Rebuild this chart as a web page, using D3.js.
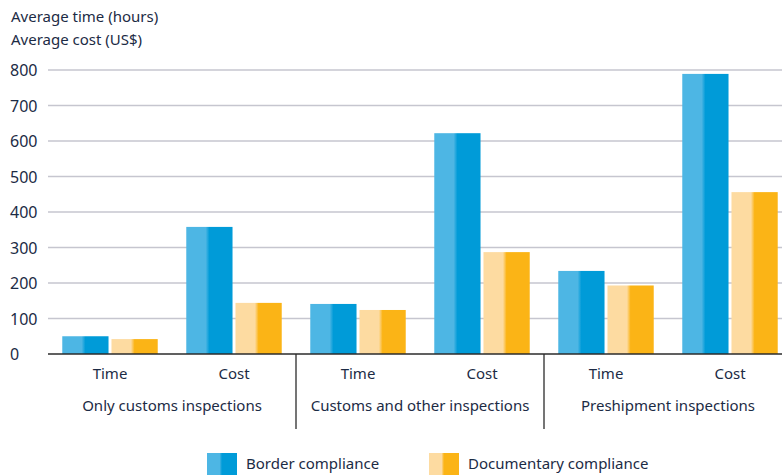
<!DOCTYPE html>
<html><head><meta charset="utf-8">
<script src="https://cdn.jsdelivr.net/npm/d3@7"></script>
<style>
html,body{margin:0;padding:0;background:#fff;}
text{font-family:"Noto Sans",sans-serif;fill:#1c2b45;}
</style></head>
<body><svg id="c" width="782" height="475"></svg>
<script>
const groups = ["Only customs inspections","Customs and other inspections","Preshipment inspections"];
const measures = ["Time","Cost"];
const seriesNames = ["Border compliance","Documentary compliance"];
const border = [50, 358, 141, 622, 234, 789];
const documentary = [42, 144, 124, 287, 193, 456];
const yTicks = [0,100,200,300,400,500,600,700,800];
const titleLines = ["Average time (hours)","Average cost (US$)"];

const svg = d3.select("#c");
const x0 = 48, plotRight = 792, yBase = 354, yTop = 70;
const y = d3.scaleLinear().domain([0,800]).range([yBase,yTop]);
const gx = d3.scaleBand().domain(groups).range([x0,plotRight]);
const mx = d3.scaleBand().domain(measures).range([0,gx.bandwidth()]);
const sx = d3.scaleBand().domain(seriesNames).range([0,mx.bandwidth()]).paddingInner(0.06).paddingOuter(0.29);

const defs = svg.append("defs");
function grad(id, light, dark){
  const g = defs.append("linearGradient").attr("id",id).attr("x1","0").attr("x2","1").attr("y1","0").attr("y2","0");
  g.append("stop").attr("offset","0%").attr("stop-color",light);
  g.append("stop").attr("offset","42%").attr("stop-color",light);
  g.append("stop").attr("offset","50%").attr("stop-color",dark);
  g.append("stop").attr("offset","100%").attr("stop-color",dark);
}
grad("gB","#4db6e4","#009bd8");
grad("gD","#fddba1","#fbb416");
const fills = {"Border compliance":"url(#gB)","Documentary compliance":"url(#gD)"};

// title
svg.selectAll("text.title").data(titleLines).enter().append("text")
  .attr("x",11).attr("y",(d,i)=>22+i*23).attr("font-size",15).text(d=>d);

// gridlines
svg.append("g").selectAll("line").data(yTicks.filter(d=>d>0)).enter().append("line")
  .attr("x1",x0).attr("x2",782).attr("y1",d=>y(d)).attr("y2",d=>y(d))
  .attr("stroke","#c6c6cf").attr("stroke-width",1.5);

// y axis labels
svg.append("g").selectAll("text").data(yTicks).enter().append("text")
  .attr("x",10).attr("y",d=>y(d)+6).attr("font-size",16).text(d=>d);

// bars
const rows = [];
groups.forEach((g,gi)=>measures.forEach((m,mi)=>{
  const k = gi*2+mi;
  rows.push({g,m,s:seriesNames[0],v:border[k]});
  rows.push({g,m,s:seriesNames[1],v:documentary[k]});
}));
svg.append("g").selectAll("rect").data(rows).enter().append("rect")
  .attr("x",d=>gx(d.g)+mx(d.m)+sx(d.s))
  .attr("width",sx.bandwidth())
  .attr("y",d=>y(d.v)).attr("height",d=>yBase-y(d.v))
  .attr("fill",d=>fills[d.s]);

// baseline
svg.append("line").attr("x1",x0).attr("x2",782).attr("y1",yBase).attr("y2",yBase)
  .attr("stroke","#2b2b2b").attr("stroke-width",1.5);

// separators
svg.append("g").selectAll("line").data(groups.slice(1)).enter().append("line")
  .attr("x1",d=>gx(d)).attr("x2",d=>gx(d)).attr("y1",yBase).attr("y2",429)
  .attr("stroke","#2b2b2b").attr("stroke-width",1.3);

// measure labels
const ml = [];
groups.forEach(g=>measures.forEach(m=>ml.push({g,m})));
svg.append("g").selectAll("text").data(ml).enter().append("text")
  .attr("x",d=>gx(d.g)+mx(d.m)+mx.bandwidth()/2).attr("y",379)
  .attr("text-anchor","middle").attr("font-size",15).text(d=>d.m);

// group labels
svg.append("g").selectAll("text").data(groups).enter().append("text")
  .attr("x",d=>gx(d)+gx.bandwidth()/2).attr("y",411)
  .attr("text-anchor","middle").attr("font-size",15).text(d=>d);

// legend
const legX = [207,429];
const lg = svg.append("g").selectAll("g").data(seriesNames).enter().append("g")
  .attr("transform",(d,i)=>`translate(${legX[i]},453)`);
lg.append("rect").attr("width",30).attr("height",22).attr("fill",d=>fills[d]);
lg.append("text").attr("x",39).attr("y",16).attr("font-size",15).text(d=>d);
</script></body></html>
